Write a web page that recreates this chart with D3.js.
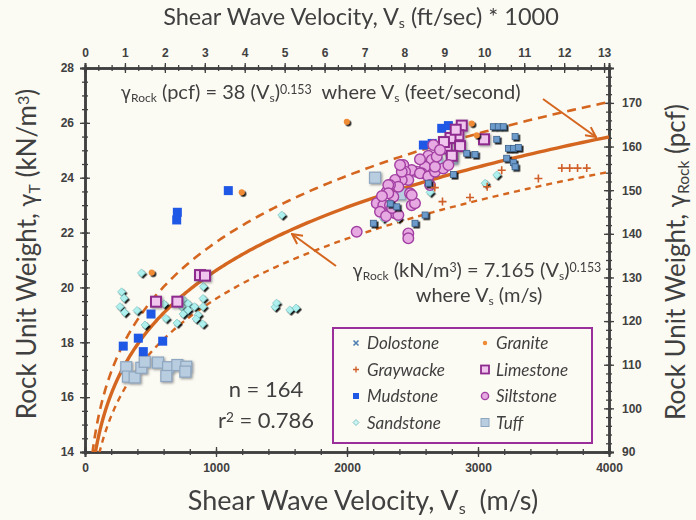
<!DOCTYPE html>
<html><head><meta charset="utf-8">
<script src="https://cdn.jsdelivr.net/npm/d3@7"></script>
<style>
body{margin:0;background:#fbfaf3;}
svg{display:block;font-family:Lato,'Open Sans',sans-serif;}
</style>
</head><body><svg id="c" width="696" height="520"></svg>
<script>
// ---------- data (Vs in m/s, unit weight in kN/m3) ----------
const xTicksBottom = [0, 1000, 2000, 3000, 4000];
const xTicksTop = [0,1,2,3,4,5,6,7,8,9,10,11,12,13];
const yTicksLeft = [14,16,18,20,22,24,26,28];
const yTicksRight = [90,100,110,120,130,140,150,160,170];

const dolostone = [[3117,25.86],[3155,25.86],[3193,25.86],[3283,25.50],[3232,25.07],[3270,25.07],[3308,25.10],[3219,24.71],[3270,24.55],[3283,24.40],[2914,24.89],[2977,24.85],[3143,25.40],[2812,24.12],[2621,23.80],[2201,22.34],[2519,22.34],[2380,22.94],[2596,22.64],[2330,23.05]];
const granite = [[1196,23.47],[509,20.54],[1998,26.04],[2952,25.98],[2990,25.55]];
const graywacke = [[3181,24.27],[3461,23.97],[3070,23.67],[2939,23.28],[2729,23.13],[2670,23.64],[3640,24.35],[3700,24.35],[3760,24.35],[3830,24.35]];
const limestone = [[542,19.48],[705,19.48],[878,20.45],[916,20.43],[2876,25.90],[2850,25.55],[2790,25.45],[2863,25.15],[2761,25.07],[3046,25.40],[2800,24.80],[2830,25.75],[2740,25.30]];
const mudstone = [[1094,23.53],[705,22.74],[700,22.46],[504,19.03],[407,18.15],[292,17.86],[445,17.66],[593,18.04],[2723,25.80],[2774,25.90],[2583,25.19],[2710,25.07],[2650,25.25]];
const siltstone = [[2659,25.19],[2621,24.80],[2647,24.65],[2596,24.40],[2570,24.16],[2532,24.22],[2494,24.28],[2430,24.46],[2443,24.22],[2468,23.92],[2418,23.92],[2367,23.92],[2392,23.67],[2328,23.73],[2303,23.49],[2354,23.31],[2481,23.43],[2494,23.00],[2519,23.07],[2252,23.13],[2227,23.07],[2277,23.00],[2328,23.00],[2252,22.76],[2367,22.70],[2392,22.64],[2557,24.16],[2621,24.04],[2672,24.22],[2735,24.34],[2774,24.46],[2634,23.73],[2074,22.03],[2468,21.97],[2468,21.79],[2672,24.40],[2315,23.73],[2315,23.43],[2494,23.37],[2418,24.22],[2557,24.67],[2685,24.77],[2710,25.01],[2405,24.46],[2267,23.33],[2298,22.60],[2344,22.90]];
const sandstone = [[431,20.53],[279,19.84],[298,19.61],[267,19.30],[302,19.09],[397,19.16],[458,18.63],[618,18.87],[603,19.40],[748,19.56],[737,19.30],[786,19.41],[836,19.30],[748,19.03],[702,18.70],[863,19.00],[901,19.30],[901,19.60],[898,18.67],[903,20.03],[786,19.18],[847,18.85],[1450,19.29],[1462,19.43],[1563,19.18],[1611,19.25],[1502,22.64],[2277,22.52],[2392,22.52],[2634,23.47],[3054,23.80],[3143,24.10]];
const tuff = [[315,17.09],[328,16.75],[379,16.72],[430,17.07],[456,17.29],[557,17.26],[634,17.09],[621,16.77],[705,17.17],[773,17.11],[766,16.93],[2214,24.00],[2685,24.56],[2799,24.71],[2405,23.40]];

const fitCoef = 7.165, fitExp = 0.153, bandUpper = 1.05, bandLower = 0.95;
const legendNames = ["Dolostone","Granite","Graywacke","Limestone","Mudstone","Siltstone","Sandstone","Tuff"];

// ---------- layout ----------
const svg = d3.select("#c");
const W = 696, H = 520;
const L = 85, R = 609, T = 68, B = 452;
const x = d3.scaleLinear().domain([0,4000]).range([L,R]);
const xTop = d3.scaleLinear().domain([0,4000*3.28084/1000]).range([L,R]);
const y = d3.scaleLinear().domain([14,28]).range([B,T]);
const yR = d3.scaleLinear().domain([90,178]).range([B,T]);
const ink = "#404040", orange = "#d4661f";
const NB = "\u00a0";

svg.append("rect").attr("width",W).attr("height",H).attr("fill","#fbfaf3");

const defs = svg.append("defs");
defs.append("clipPath").attr("id","clip").append("rect").attr("x",L).attr("y",T).attr("width",R-L).attr("height",B-T);
const f1 = defs.append("filter").attr("id","sh").attr("x","-50%").attr("y","-50%").attr("width","200%").attr("height","200%");
f1.append("feDropShadow").attr("dx",1.6).attr("dy",1.6).attr("stdDeviation",0.6).attr("flood-color","#000").attr("flood-opacity",0.9);
const f2 = defs.append("filter").attr("id","shs").attr("x","-50%").attr("y","-50%").attr("width","200%").attr("height","200%");
f2.append("feDropShadow").attr("dx",1.2).attr("dy",1.2).attr("stdDeviation",1.2).attr("flood-color","#555").attr("flood-opacity",0.6);
const mk = defs.append("marker").attr("id","arr").attr("viewBox","0 0 12 12").attr("refX",11).attr("refY",6)
  .attr("markerWidth",12).attr("markerHeight",12).attr("markerUnits","userSpaceOnUse").attr("orient","auto");
mk.append("path").attr("d","M1,1 L11,6 L1,11").attr("fill","none").attr("stroke",orange).attr("stroke-width",2);

// ---------- axes ----------
function range(a,b,s){const r=[];for(let v=a;v<=b+1e-9;v+=s)r.push(+v.toFixed(4));return r;}
function styleAxis(g){g.select(".domain").attr("stroke",ink).attr("stroke-width",2);
  g.selectAll(".tick line").attr("stroke",ink).attr("stroke-width",1.3);
  g.selectAll("text").attr("fill",ink).attr("font-family","'Liberation Sans',Arial,sans-serif").attr("font-weight","bold").attr("font-size",12);}
function dualAxis(axisFn, scale, majors, minors, transform, fmt, pad){
  const g = svg.append("g").attr("transform",transform);
  g.call(axisFn(scale).tickValues(minors).tickSize(3).tickFormat("")).call(styleAxis);
  g.append("g").call(axisFn(scale).tickValues(minors).tickSize(-3).tickFormat("")).call(styleAxis);
  g.append("g").call(axisFn(scale).tickValues(majors).tickSize(-5).tickFormat("")).call(styleAxis);
  g.append("g").call(axisFn(scale).tickValues(majors).tickSize(5).tickPadding(pad).tickFormat(fmt)).call(styleAxis);
}
dualAxis(d3.axisLeft, y, yTicksLeft, range(14,28,0.5), `translate(${L},0)`, d3.format("d"), 6);
dualAxis(d3.axisRight, yR, yTicksRight, range(90,178,2), `translate(${R},0)`, d3.format("d"), 8);
dualAxis(d3.axisBottom, x, xTicksBottom, range(0,4000,200), `translate(0,${B})`, d3.format("d"), 6);
dualAxis(d3.axisTop, xTop, xTicksTop, range(0,13,1/3), `translate(0,${T})`, d3.format("d"), 6);

// ---------- curves ----------
const plot = svg.append("g").attr("clip-path","url(#clip)");
function curve(k){
  const v0 = Math.pow(14/(fitCoef*k), 1/fitExp)*0.98;
  const pts = d3.range(0,301).map(i=>{const v=v0*Math.pow(4000/v0,i/300);return [v,fitCoef*k*Math.pow(v,fitExp)];});
  return d3.line().x(d=>x(d[0])).y(d=>y(d[1]))(pts);
}
plot.append("path").attr("d",curve(bandUpper)).attr("fill","none").attr("stroke",orange).attr("stroke-width",2.6).attr("stroke-dasharray","9,6");
plot.append("path").attr("d",curve(bandLower)).attr("fill","none").attr("stroke",orange).attr("stroke-width",2.4).attr("stroke-dasharray","6,5");
plot.append("path").attr("d",curve(1)).attr("fill","none").attr("stroke",orange).attr("stroke-width",3.4);

// ---------- points ----------
const sym = {
  Dolostone:{data:dolostone, draw:(g)=>g.append("rect").attr("x",-3).attr("y",-3).attr("width",6).attr("height",6).attr("fill","#6d9ccc").attr("stroke","#3b5f86").attr("stroke-width",0.8), f:"sh"},
  Granite:{data:granite, draw:(g)=>g.append("circle").attr("r",3).attr("fill","#ef8a35"), f:"sh"},
  Graywacke:{data:graywacke, draw:(g)=>g.append("path").attr("d","M-4,0H4M0,-4V4").attr("stroke","#d0602a").attr("stroke-width",1.6), f:null},
  Limestone:{data:limestone, draw:(g)=>g.append("rect").attr("x",-5).attr("y",-5).attr("width",10).attr("height",10).attr("fill","#f0c6ee").attr("stroke","#8e2a8e").attr("stroke-width",2), f:"shs"},
  Mudstone:{data:mudstone, draw:(g)=>g.append("rect").attr("x",-4.5).attr("y",-4.5).attr("width",9).attr("height",9).attr("fill","#2058e6"), f:null},
  Siltstone:{data:siltstone, draw:(g)=>g.append("circle").attr("r",5.3).attr("fill","#e7a9e1").attr("stroke","#a23fa2").attr("stroke-width",1.4), f:null},
  Sandstone:{data:sandstone, draw:(g)=>g.append("path").attr("d","M0,-4L4,0L0,4L-4,0Z").attr("fill","#aef0ee").attr("stroke","#6fb8b8").attr("stroke-width",0.6), f:"sh"},
  Tuff:{data:tuff, draw:(g)=>g.append("rect").attr("x",-5.5).attr("y",-5.5).attr("width",11).attr("height",11).attr("fill","#b9cde0").attr("stroke","#8ea6bf").attr("stroke-width",1.2), f:"shs"}
};
const order = ["Tuff","Sandstone","Mudstone","Limestone","Siltstone","Dolostone","Granite","Graywacke"];
order.forEach(name=>{
  const s = sym[name];
  const g = plot.append("g").attr("filter", s.f ? `url(#${s.f})` : null);
  s.data.forEach(d=>{ const p = g.append("g").attr("transform",`translate(${x(d[0])},${y(d[1])})`); s.draw(p); });
});

// ---------- titles ----------
function rich(sel, parts, size){
  parts.forEach(p=>{
    const t = sel.append("tspan").text(p[0]);
    if(p[1]==="sub") t.attr("font-size",size*0.6).attr("baseline-shift","-22%");
    if(p[1]==="sup") t.attr("font-size",size*0.62).attr("baseline-shift","45%");
    if(p[1]==="g") t.attr("font-family","'DejaVu Sans',sans-serif").attr("font-size",size*0.85);
  });
}
const tTop = svg.append("text").attr("x",361).attr("y",25).attr("text-anchor","middle").attr("fill",ink).attr("font-size",23.5);
rich(tTop, [["Shear Wave Velocity, V"],["s","sub"],[" (ft/sec) * 1000"]], 23.5);
const tBot = svg.append("text").attr("x",363).attr("y",510).attr("text-anchor","middle").attr("fill",ink).attr("font-size",27);
rich(tBot, [["Shear Wave Velocity, V"],["s","sub"],[NB+" (m/s)"]], 27);
const tL = svg.append("text").attr("transform","translate(36,254) rotate(-90)").attr("text-anchor","middle").attr("fill",ink).attr("font-size",26);
rich(tL, [["Rock Unit Weight, "],["γ","g"],["T","sub"],[" (kN/m"],["3","sup"],[")"]], 26);
const tR = svg.append("text").attr("transform","translate(685,262) rotate(-90)").attr("text-anchor","middle").attr("fill",ink).attr("font-size",26);
rich(tR, [["Rock Unit Weight, "],["γ","g"],["Rock","sub"],[" (pcf)"]], 26);

// ---------- annotations ----------
const e1 = svg.append("text").attr("x",121).attr("y",99).attr("fill",ink).attr("font-size",20);
rich(e1, [["γ","g"],["Rock","sub"],[" (pcf) = 38 (V"],["s","sub"],[")"],["0.153","sup"],[NB+NB+"where V"],["s","sub"],[" (feet/second)"]], 20);
const e2 = svg.append("text").attr("x",477).attr("y",277).attr("text-anchor","middle").attr("fill",ink).attr("font-size",20);
rich(e2, [["γ","g"],["Rock","sub"],[" (kN/m"],["3","sup"],[") = 7.165 (V"],["s","sub"],[")"],["0.153","sup"]], 20);
const e3 = svg.append("text").attr("x",479).attr("y",302).attr("text-anchor","middle").attr("fill",ink).attr("font-size",20);
rich(e3, [["where V"],["s","sub"],[" (m/s)"]], 20);

svg.append("line").attr("x1",543).attr("y1",99).attr("x2",596).attr("y2",137).attr("stroke",orange).attr("stroke-width",2).attr("marker-end","url(#arr)");
svg.append("line").attr("x1",336).attr("y1",266).attr("x2",292).attr("y2",234).attr("stroke",orange).attr("stroke-width",2).attr("marker-end","url(#arr)");

svg.append("text").attr("x",266).attr("y",397).attr("text-anchor","middle").attr("fill",ink).attr("font-size",22).text("n = 164");
const r2 = svg.append("text").attr("x",266).attr("y",428).attr("text-anchor","middle").attr("fill",ink).attr("font-size",22);
rich(r2, [["r"],["2","sup"],[" = 0.786"]], 22);

// ---------- legend ----------
const lg = svg.append("g");
lg.append("rect").attr("x",333).attr("y",328).attr("width",259).attr("height",115).attr("fill","#fbfaf3").attr("stroke","#9a2f9c").attr("stroke-width",2);
const lgSym = {
  Dolostone:(g)=>g.append("path").attr("d","M-2.5,-2.5L2.5,2.5M-2.5,2.5L2.5,-2.5").attr("stroke","#4f7fb0").attr("stroke-width",1.6),
  Granite:(g)=>g.append("circle").attr("r",2.2).attr("fill","#ef8a35"),
  Graywacke:(g)=>g.append("path").attr("d","M-3,0H3M0,-3V3").attr("stroke","#d0602a").attr("stroke-width",1.4),
  Limestone:(g)=>g.append("rect").attr("x",-4).attr("y",-4).attr("width",8).attr("height",8).attr("fill","#f0c6ee").attr("stroke","#8e2a8e").attr("stroke-width",1.8),
  Mudstone:(g)=>g.append("rect").attr("x",-3).attr("y",-3).attr("width",6).attr("height",6).attr("fill","#2058e6"),
  Siltstone:(g)=>g.append("circle").attr("r",3.6).attr("fill","#e7a9e1").attr("stroke","#a23fa2").attr("stroke-width",1.4),
  Sandstone:(g)=>g.append("path").attr("d","M0,-3L3,0L0,3L-3,0Z").attr("fill","#c8f4f2").attr("stroke","#6fb8b8").attr("stroke-width",0.8),
  Tuff:(g)=>g.append("rect").attr("x",-4).attr("y",-4).attr("width",8).attr("height",8).attr("fill","#b9cde0").attr("stroke","#8ea6bf").attr("stroke-width",1)
};
legendNames.forEach((nm,i)=>{
  const col = i%2, row = Math.floor(i/2);
  const gx = col ? 485 : 356, gy = 343 + row*26.5;
  lgSym[nm](lg.append("g").attr("transform",`translate(${gx},${gy})`));
  lg.append("text").attr("x",gx+11).attr("y",gy+6).attr("fill",ink).attr("font-size",17).attr("font-style","italic").text(nm);
});
</script></body></html>
